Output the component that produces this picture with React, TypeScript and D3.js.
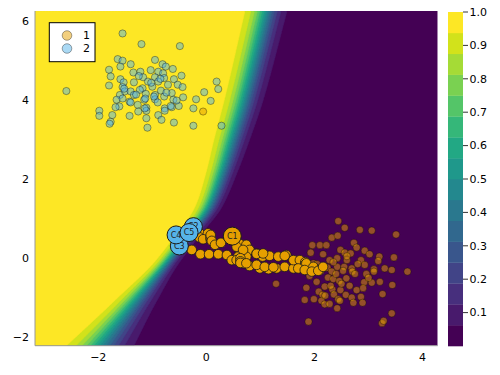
import React, { useEffect, useRef } from 'react';
import * as d3 from 'd3';

// Decision boundary: x of the p = 0.5 line at each y,
// and the horizontal width of the band between the lowest and highest level.
const boundaryY = [6.3, 4.0, 3.0, 2.2, 1.3, 0.45, 0, -1.07, -2.25];
const boundaryX = [1.11, 0.69, 0.47, 0.29, 0.04, -0.42, -0.67, -1.3, -1.98];
const boundaryW = [0.78, 0.72, 0.66, 0.58, 0.5, 0.45, 0.46, 0.78, 1.26];

const nLevels = 16;
const colorbarTicks = [0.1, 0.2, 0.3, 0.4, 0.5, 0.6, 0.7, 0.8, 0.9, 1.0];
const xTicks = [-2, 0, 2, 4];
const yTicks = [-2, 0, 2, 4, 6];

// class 1 samples (orange), mostly bottom right
const class1Points = [
  [2.44, 0.94], [2.56, 0.77], [2.84, 0.72], [3.06, 0.7], [3.51, 0.6], [2.32, 0.52], [2.43, 0.57],
  [2.73, 0.39], [1.96, 0.33], [2.1, 0.33], [2.22, 0.33], [2.78, 0.27], [1.93, 0.14], [2.16, 0.1],
  [2.48, 0.21], [2.56, 0.14], [2.67, 0.12], [2.93, 0.19], [3.02, 0.1], [3.2, 0.04], [3.47, 0.02],
  [2.28, -0.05], [2.42, 0.0], [2.86, -0.05], [3.18, -0.07], [1.98, -0.13], [2.24, -0.24], [2.42, -0.22],
  [2.55, -0.22], [2.69, -0.26], [2.93, -0.17], [3.1, -0.28], [3.3, -0.26], [3.43, -0.3], [3.72, -0.34],
  [2.1, -0.26], [2.32, -0.34], [2.53, -0.32], [2.7, -0.34], [2.96, -0.4], [3.1, -0.34], [1.91, -0.45],
  [2.25, -0.49], [2.35, -0.53], [2.46, -0.58], [2.59, -0.51], [2.92, -0.61], [3.06, -0.62], [3.21, -0.6],
  [2.04, -0.6], [1.29, -0.65], [1.85, -0.75], [2.19, -0.72], [2.33, -0.79], [2.48, -0.81], [2.78, -0.81],
  [2.9, -0.76], [3.44, -0.68], [2.08, -0.85], [2.15, -0.93], [2.36, -0.92], [2.58, -0.93], [2.86, -0.98],
  [3.26, -0.91], [1.82, -1.06], [1.99, -1.04], [2.13, -1.08], [2.44, -1.04], [2.47, -1.08], [2.69, -1.0],
  [2.72, -1.13], [2.89, -1.13], [2.19, -1.17], [2.28, -1.16], [2.42, -1.27], [1.89, -1.61], [3.25, -1.65],
  [3.28, -1.59], [3.43, -1.4], [2.35, -0.1], [2.6, -0.05], [2.75, -0.4], [2.5, -0.65], [2.65, -0.7],
  [2.2, -0.95], [2.4, -0.4], [2.8, -0.15], [2.05, -0.15], [2.6, 0.05], [2.3, -0.7], [3.0, -0.5],
  [-0.06, 3.72],
];

// class 2 samples (blue), top left
const class2Points = [
  [-1.55, 5.7], [-1.2, 5.43], [-0.49, 5.38], [-1.64, 5.05], [-1.55, 5.01], [-0.95, 5.03], [-1.4, 4.92],
  [-0.81, 4.92], [-0.75, 4.86], [-1.59, 4.86], [-1.8, 4.78], [-0.62, 4.8], [-1.35, 4.71], [-1.22, 4.73],
  [-1.03, 4.77], [-0.89, 4.73], [-0.8, 4.69], [-0.46, 4.63], [-1.77, 4.61], [-1.59, 4.54], [-1.17, 4.59],
  [-0.95, 4.59], [-0.78, 4.57], [-0.6, 4.54], [0.19, 4.48], [-1.53, 4.46], [-1.34, 4.46], [-1.08, 4.48],
  [-0.89, 4.48], [-0.71, 4.4], [-0.53, 4.4], [-1.8, 4.38], [-1.55, 4.34], [-1.18, 4.31], [-1.0, 4.35],
  [-0.44, 4.34], [0.22, 4.29], [-2.59, 4.24], [-1.51, 4.23], [-1.4, 4.23], [-1.23, 4.27], [-0.84, 4.25],
  [-0.64, 4.19], [-0.04, 4.21], [-1.6, 4.14], [-1.34, 4.14], [-1.12, 4.17], [-0.95, 4.14], [-0.78, 4.1],
  [-0.43, 4.08], [-1.66, 4.02], [-1.42, 3.97], [-1.15, 4.02], [-0.95, 4.03], [-0.61, 4.02], [-0.19, 4.03],
  [0.08, 3.99], [-1.61, 3.85], [-1.27, 3.89], [-1.11, 3.82], [-0.77, 3.8], [-0.64, 3.83], [-0.51, 3.86],
  [-0.24, 3.8], [-1.98, 3.74], [-1.98, 3.61], [-1.74, 3.63], [-1.42, 3.61], [-1.26, 3.72], [-1.11, 3.74],
  [-0.89, 3.63], [-0.77, 3.74], [-1.77, 3.46], [-1.79, 3.41], [-1.11, 3.55], [-0.83, 3.51], [-0.6, 3.44],
  [-0.24, 3.36], [-1.09, 3.31], [0.28, 3.36], [-1.4, 3.95], [-1.13, 4.05], [-0.97, 4.1], [-0.55, 4.0],
  [-0.66, 3.86], [-1.14, 3.8], [-1.68, 3.83], [-1.52, 4.3], [-1.02, 4.45], [-0.85, 4.55], [-1.25, 4.62],
  [-0.74, 4.2], [-1.3, 4.15], [-0.9, 3.95], [-1.55, 4.05],
];

// path of the cluster centre over the iterations
const trailPoints = [
  [-0.27, 0.21], [-0.11, 0.1], [0.05, 0.1], [0.22, 0.1], [0.38, 0.08], [-0.12, 0.63], [-0.13, 0.53],
  [0.03, 0.63], [-0.06, 0.48], [0.08, 0.47], [0.08, 0.51], [0.08, 0.55], [0.08, 0.59], [0.1, 0.44],
  [0.16, 0.34], [0.27, 0.39], [0.62, 0.12], [0.62, 0.18], [0.62, 0.24], [0.62, 0.3], [0.62, 0.36],
  [0.74, 0.34], [0.8, 0.21], [0.59, 0.04], [0.74, 0.04], [0.93, 0.12], [1.04, 0.04], [1.17, 0.06],
  [0.8, -0.2], [0.99, -0.26], [1.15, -0.28], [1.3, -0.26], [1.45, -0.22], [1.61, -0.26], [1.33, 0.04],
  [1.48, 0.08], [1.61, -0.05], [0.68, -0.13], [0.47, -0.05], [0.56, 0.29], [0.68, 0.21], [0.93, 0.11],
  [1.05, 0.12], [1.45, 0.06], [1.73, -0.05], [1.83, -0.1], [1.83, -0.16], [1.85, -0.13], [1.98, -0.22],
  [2.1, -0.3], [0.56, -0.05], [0.63, 0.0], [0.63, -0.08], [0.63, -0.12], [0.74, -0.13], [0.93, -0.17],
  [1.08, -0.22], [1.24, -0.23], [1.7, -0.26], [1.82, -0.3], [1.95, -0.34], [2.07, -0.32], [2.16, -0.22],
];

const centroidNames = ['C2', 'C3', 'C4', 'C5', 'C1'];
const centroidPoints = [[-0.24, 0.8], [-0.5, 0.31], [-0.56, 0.59], [-0.32, 0.65], [0.48, 0.56]];
const centroidClass = [2, 2, 2, 2, 1];

const legendLabels = ['1', '2'];
const classColor: Record<number, string> = { 1: '#e69f00', 2: '#56b4e9' };

// smooth monotone curve through (ks[i], vs[i]), ks descending (Fritsch-Carlson)
const smoothThrough = (ksIn: number[], vsIn: number[]) => {
  const ks = [...ksIn].reverse(), vs = [...vsIn].reverse();
  const n = ks.length;
  const d = d3.range(n - 1).map(i => (vs[i + 1] - vs[i]) / (ks[i + 1] - ks[i]));
  const m = ks.map((k, i) => {
    if (i === 0) return d[0];
    if (i === n - 1) return d[n - 2];
    if (d[i - 1] * d[i] <= 0) return 0;
    return 2 / (1 / d[i - 1] + 1 / d[i]);
  });
  return (t: number) => {
    if (t <= ks[0]) return vs[0];
    if (t >= ks[n - 1]) return vs[n - 1];
    let i = 0;
    while (i < n - 2 && t > ks[i + 1]) i++;
    const h = ks[i + 1] - ks[i];
    const s = (t - ks[i]) / h;
    const h00 = 2 * s ** 3 - 3 * s ** 2 + 1, h10 = s ** 3 - 2 * s ** 2 + s;
    const h01 = -2 * s ** 3 + 3 * s ** 2, h11 = s ** 3 - s ** 2;
    return h00 * vs[i] + h10 * h * m[i] + h01 * vs[i + 1] + h11 * h * m[i + 1];
  };
};

const App = () => {
  const svgRef = useRef<SVGSVGElement>(null);

  useEffect(() => {
    const svg = d3.select(svgRef.current);
    svg.selectAll('*').remove();

    const left = 35, right = 437.7, top = 11, bottom = 345.7;
    const x = d3.scaleLinear().domain([-3.17, 4.28]).range([left, right]);
    const y = d3.scaleLinear().domain([-2.22, 6.27]).range([bottom, top]);
    const font = 'DejaVu Sans, sans-serif';

    // probability field from the boundary line
    const midX = smoothThrough(boundaryY, boundaryX);
    const bandW = smoothThrough(boundaryY, boundaryW);
    const logit = 2 * Math.log(nLevels - 1);
    const prob = (px: number, py: number) => {
      const k = logit / bandW(py);
      return 1 / (1 + Math.exp(-k * (midX(py) - px)));
    };

    const cell = 1.5;
    const nx = Math.ceil((right - left) / cell);
    const ny = Math.ceil((bottom - top) / cell);
    const values = new Array(nx * ny);
    for (let j = 0; j < ny; j++) {
      for (let i = 0; i < nx; i++) {
        values[j * nx + i] = prob(x.invert(left + (i + 0.5) * cell), y.invert(top + (j + 0.5) * cell));
      }
    }
    const thresholds = d3.range(1, nLevels).map(b => b / nLevels);
    const contours = d3.contours().size([nx, ny]).thresholds(thresholds)(values);
    const levelColor = (b: number) => d3.interpolateViridis(b / (nLevels - 1));

    const path = d3.geoPath(d3.geoTransform({
      point(px: number, py: number) {
        (this as any).stream.point(left + px * cell, top + py * cell);
      },
    }));

    svg.append('clipPath').attr('id', 'plot-clip')
      .append('rect').attr('x', left).attr('y', top).attr('width', right - left).attr('height', bottom - top);

    const plot = svg.append('g').attr('clip-path', 'url(#plot-clip)');
    plot.append('rect')
      .attr('x', left).attr('y', top).attr('width', right - left).attr('height', bottom - top)
      .attr('fill', levelColor(0));
    plot.selectAll('path.level')
      .data(contours)
      .enter()
      .append('path')
      .attr('class', 'level')
      .attr('d', d => path(d as any))
      .attr('fill', (d, i) => levelColor(i + 1))
      .attr('stroke', (d, i) => levelColor(i + 1))
      .attr('stroke-width', 0.5);

    // samples
    const drawSamples = (pts: number[][], color: string) => {
      plot.append('g').selectAll('circle')
        .data(pts)
        .enter()
        .append('circle')
        .attr('cx', d => x(d[0]))
        .attr('cy', d => y(d[1]))
        .attr('r', 3.6)
        .attr('fill', color)
        .attr('fill-opacity', 0.5)
        .attr('stroke', '#000')
        .attr('stroke-opacity', 0.35)
        .attr('stroke-width', 1);
    };
    drawSamples(class1Points, classColor[1]);
    drawSamples(class2Points, classColor[2]);

    // trail of the centre
    plot.append('g').selectAll('circle')
      .data(trailPoints)
      .enter()
      .append('circle')
      .attr('cx', d => x(d[0]))
      .attr('cy', d => y(d[1]))
      .attr('r', 4.8)
      .attr('fill', classColor[1])
      .attr('stroke', '#1a1a1a')
      .attr('stroke-width', 0.8);

    // labelled centroids
    centroidPoints.forEach((d, i) => {
      plot.append('circle')
        .attr('cx', x(d[0])).attr('cy', y(d[1])).attr('r', 9)
        .attr('fill', classColor[centroidClass[i]])
        .attr('stroke', '#1a1a1a').attr('stroke-width', 1);
      plot.append('text')
        .attr('x', x(d[0])).attr('y', y(d[1]))
        .attr('dy', '0.35em')
        .attr('text-anchor', 'middle')
        .attr('font-family', font).attr('font-size', 8)
        .attr('fill', '#222')
        .text(centroidNames[i]);
    });

    // axes
    svg.append('line').attr('x1', left).attr('x2', left).attr('y1', top).attr('y2', bottom)
      .attr('stroke', '#999').attr('stroke-width', 1);
    svg.append('line').attr('x1', left).attr('x2', right).attr('y1', bottom).attr('y2', bottom)
      .attr('stroke', '#999').attr('stroke-width', 1);

    svg.selectAll('text.xtick')
      .data(xTicks)
      .enter()
      .append('text')
      .attr('class', 'xtick')
      .attr('x', d => x(d))
      .attr('y', 360.5)
      .attr('text-anchor', 'middle')
      .attr('font-family', font).attr('font-size', 11)
      .text(d => (d < 0 ? '\u2212' + Math.abs(d) : String(d)));

    svg.selectAll('text.ytick')
      .data(yTicks)
      .enter()
      .append('text')
      .attr('class', 'ytick')
      .attr('x', 29)
      .attr('y', d => y(d))
      .attr('dy', '0.35em')
      .attr('text-anchor', 'end')
      .attr('font-family', font).attr('font-size', 11)
      .text(d => (d < 0 ? '\u2212' + Math.abs(d) : String(d)));

    // colorbar
    const cb = d3.scaleLinear().domain([0, 1]).range([346, 12]);
    const cbLeft = 448, cbRight = 463;
    svg.selectAll('rect.cb')
      .data(d3.range(nLevels))
      .enter()
      .append('rect')
      .attr('class', 'cb')
      .attr('x', cbLeft)
      .attr('y', b => cb((b + 1) / nLevels))
      .attr('width', cbRight - cbLeft)
      .attr('height', b => cb(b / nLevels) - cb((b + 1) / nLevels) + 0.3)
      .attr('fill', b => levelColor(b));
    svg.selectAll('line.cbtick')
      .data(colorbarTicks)
      .enter()
      .append('line')
      .attr('class', 'cbtick')
      .attr('x1', cbRight).attr('x2', cbRight + 5)
      .attr('y1', d => cb(d)).attr('y2', d => cb(d))
      .attr('stroke', '#333').attr('stroke-width', 1);
    svg.selectAll('text.cbtick')
      .data(colorbarTicks)
      .enter()
      .append('text')
      .attr('class', 'cbtick')
      .attr('x', 469.5)
      .attr('y', d => cb(d))
      .attr('dy', '0.35em')
      .attr('font-family', font).attr('font-size', 11)
      .text(d => d.toFixed(1));

    // legend
    const legend = svg.append('g');
    legend.append('rect')
      .attr('x', 49.3).attr('y', 22.7).attr('width', 45.7).attr('height', 39)
      .attr('fill', '#fff').attr('stroke', '#000').attr('stroke-width', 1);
    legendLabels.forEach((lab, i) => {
      legend.append('circle')
        .attr('cx', 67).attr('cy', 35.5 + i * 13).attr('r', 4.8)
        .attr('fill', classColor[i + 1]).attr('fill-opacity', 0.5)
        .attr('stroke', '#000').attr('stroke-opacity', 0.35);
      legend.append('text')
        .attr('x', 83).attr('y', 35.5 + i * 13).attr('dy', '0.35em')
        .attr('font-family', font).attr('font-size', 11)
        .text(lab);
    });
  }, []);

  return (
    <svg ref={svgRef} width={500} height={375} style={{ position: 'absolute', left: 0, top: 0 }}></svg>
  );
};

export default App;
